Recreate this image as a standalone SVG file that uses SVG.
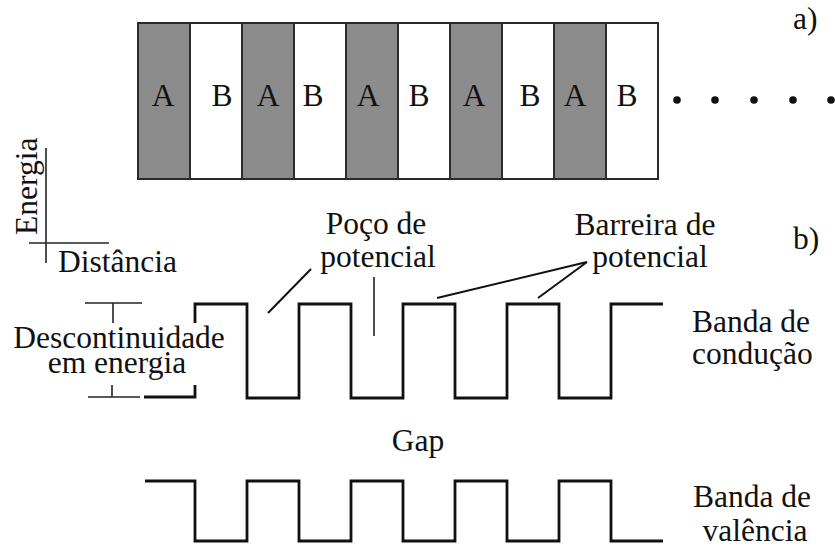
<svg xmlns="http://www.w3.org/2000/svg" width="835" height="548" viewBox="0 0 835 548" font-family="'Liberation Serif', 'DejaVu Serif', serif">
  <style>
    text { font-family: 'Liberation Serif', 'DejaVu Serif', serif; fill: #111; font-size: 31.5px; }
    .cellA { fill: #8c8c8c; stroke: #2a2a2a; stroke-width: 2; }
    .cellB { fill: #ffffff; stroke: #2a2a2a; stroke-width: 2; }
    .band { fill: none; stroke: #111; stroke-width: 2.8; stroke-linejoin: miter; }
    .ptr { fill: none; stroke: #111; stroke-width: 2; }
    .thin { fill: none; stroke: #222; stroke-width: 1.6; }
    .dot { fill: #111; }
  </style>
  <rect width="835" height="548" fill="#ffffff"/>

  <!-- a) layer stack A/B -->
  <g id="stack">
    <rect class="cellA" x="138" y="23" width="52" height="156"/>
    <rect class="cellB" x="190" y="23" width="52" height="156"/>
    <rect class="cellA" x="242" y="23" width="52" height="156"/>
    <rect class="cellB" x="294" y="23" width="52" height="156"/>
    <rect class="cellA" x="346" y="23" width="52" height="156"/>
    <rect class="cellB" x="398" y="23" width="52" height="156"/>
    <rect class="cellA" x="450" y="23" width="52" height="156"/>
    <rect class="cellB" x="502" y="23" width="52" height="156"/>
    <rect class="cellA" x="554" y="23" width="52" height="156"/>
    <rect class="cellB" x="606" y="23" width="52" height="156"/>
    <g text-anchor="middle">
      <text x="163" y="106">A</text>
      <text x="222" y="106">B</text>
      <text x="268" y="106">A</text>
      <text x="313" y="106">B</text>
      <text x="368" y="106">A</text>
      <text x="419" y="106">B</text>
      <text x="474" y="106">A</text>
      <text x="530" y="106">B</text>
      <text x="575" y="106">A</text>
      <text x="627" y="106">B</text>
    </g>
    <circle class="dot" cx="677" cy="100" r="3.8"/>
    <circle class="dot" cx="715" cy="100" r="3.8"/>
    <circle class="dot" cx="754" cy="100" r="3.8"/>
    <circle class="dot" cx="793" cy="100" r="3.8"/>
    <circle class="dot" cx="831" cy="100" r="3.8"/>
  </g>
  <text id="label-a" x="793" y="29">a)</text>

  <!-- axes -->
  <g id="axes">
    <line class="thin" x1="46" y1="148" x2="46" y2="263"/>
    <line class="thin" x1="29" y1="243" x2="109" y2="243"/>
    <text transform="translate(37,235) rotate(-90)">Energia</text>
    <text x="58" y="272">Distância</text>
  </g>
  <text id="label-b" x="793" y="249">b)</text>

  <!-- band profiles -->
  <g id="conduction-band">
    <path class="band" d="M144,397 H195 V385 M195,323 V304 H247 V398 H299 V304 H351 V398 H403 V304 H455 V398 H507 V304 H559 V398 H611 V304 H663"/>
    <text x="692" y="332">Banda de</text>
    <text x="692" y="364">condução</text>
  </g>
  <g id="valence-band">
    <path class="band" d="M145,481 H195 V541 H247 V481 H299 V541 H351 V481 H403 V541 H455 V481 H507 V541 H559 V481 H611 V541 H663"/>
    <text x="693" y="507">Banda de</text>
    <text x="755" y="541" text-anchor="middle">valência</text>
  </g>
  <g id="gap">
    <text x="418" y="451" text-anchor="middle">Gap</text>
  </g>

  <!-- band offset bracket -->
  <g id="offset">
    <line class="thin" x1="85" y1="303" x2="142" y2="303"/>
    <line class="thin" x1="113" y1="303" x2="113" y2="323"/>
    <line class="thin" x1="88" y1="397" x2="140" y2="397"/>
    <line class="thin" x1="112" y1="385" x2="112" y2="397"/>
    <text x="119" y="348" text-anchor="middle">Descontinuidade</text>
    <text x="117" y="373" text-anchor="middle">em energia</text>
  </g>

  <!-- well / barrier labels -->
  <g id="well-label">
    <text x="376" y="234" text-anchor="middle">Poço de</text>
    <text x="378" y="267" text-anchor="middle">potencial</text>
  </g>
  <g id="barrier-label">
    <text x="645" y="235" text-anchor="middle">Barreira de</text>
    <text x="650" y="267" text-anchor="middle">potencial</text>
  </g>

  <g id="connectors">
    <line class="ptr" x1="268" y1="313" x2="311" y2="269"/>
    <line class="thin" x1="374" y1="277" x2="374" y2="336"/>
    <line class="ptr" x1="437" y1="298" x2="587" y2="262"/>
    <line class="ptr" x1="538" y1="298" x2="587" y2="262"/>
  </g>
</svg>
